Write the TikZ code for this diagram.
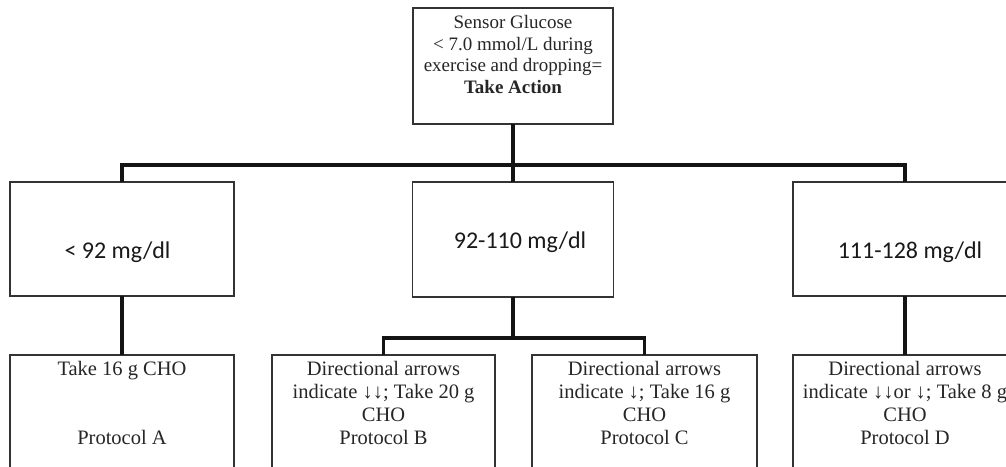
\documentclass[tikz,border=0pt]{standalone}
\usepackage{fontspec}
\setmainfont{Liberation Serif}
\newfontfamily\calib{Carlito}
\definecolor{boxc}{HTML}{333333}
\definecolor{txtc}{HTML}{262626}
\definecolor{linec}{HTML}{141414}
\begin{document}
\begin{tikzpicture}[x=1pt,y=-1pt,
  box/.style={draw=boxc, line width=1.4pt, inner sep=0pt, outer sep=0pt, fill=white},
  conn/.style={draw=linec, line width=3.4pt, line join=miter, line cap=rect},
  toptxt/.style={text=txtc, align=center, inner sep=0pt, font=\fontsize{19}{21.8}\selectfont},
  bottxt/.style={text=txtc, align=center, inner sep=0pt, font=\fontsize{20.5}{23}\selectfont},
  sanstxt/.style={text=black!90, inner sep=0pt, font=\calib\fontsize{24}{28}\selectfont}]
\useasboundingbox (0,0) rectangle (1006,466);
\clip (0,0) rectangle (1006,466);
\fill[white] (0,0) rectangle (1006,466);

% boxes
\node[box, minimum width=200pt, minimum height=116pt] (top) at (513,66) {};
\node[box, minimum width=224pt, minimum height=114pt] (L) at (122,239) {};
\node[box, minimum width=201pt, minimum height=115pt] (M) at (513,239.5) {};
\node[box, minimum width=224pt, minimum height=114pt] (R) at (905,239) {};
\node[box, minimum width=224pt, minimum height=150pt] (A) at (122,430) {};
\node[box, minimum width=223pt, minimum height=150pt] (B) at (383.5,430) {};
\node[box, minimum width=225pt, minimum height=150pt] (C) at (644.5,430) {};
\node[box, minimum width=224pt, minimum height=150pt] (D) at (905,430) {};

% bus coordinates
\coordinate (bus) at (0,165);
\coordinate (sub) at (0,338);

% connectors
\draw[conn, line cap=butt] (top.south) -- (top.south |- bus);
\draw[conn, line cap=butt] (L.north) -- (L.north |- bus) -- (R.north |- bus) -- (R.north);
\draw[conn, line cap=butt] (M.north) -- (M.north |- bus);
\draw[conn, line cap=butt] (L.south) -- (A.north);
\draw[conn, line cap=butt] (R.south) -- (D.north);
\draw[conn, line cap=butt] (M.south) -- (M.south |- sub);
\draw[conn, line cap=butt] (B.north) -- (B.north |- sub) -- (C.north |- sub) -- (C.north);

% texts
\node[toptxt, anchor=north] (ttop) at (513,15) {Sensor Glucose\\< 7.0 mmol/L during\\exercise and dropping=\\\textbf{Take Action}};
\node[sanstxt] (tL) at (117.5,252) {< 92 mg/dl};
\node[sanstxt] (tM) at (520,242) {92-110 mg/dl};
\node[sanstxt] (tR) at (910,252) {111-128 mg/dl};
\node[bottxt, anchor=north] (tA) at (122,361.5) {Take 16 g CHO\\[46pt]Protocol A};
\node[bottxt, anchor=north] (tB) at (383.5,361.5) {Directional arrows\\indicate ↓↓; Take 20 g\\CHO\\Protocol B};
\node[bottxt, anchor=north] (tC) at (644.5,361.5) {Directional arrows\\indicate ↓; Take 16 g\\CHO\\Protocol C};
\node[bottxt, anchor=north] (tD) at (905,361.5) {Directional arrows\\indicate ↓↓or ↓; Take 8 g\\CHO\\Protocol D};
\end{tikzpicture}
\end{document}
